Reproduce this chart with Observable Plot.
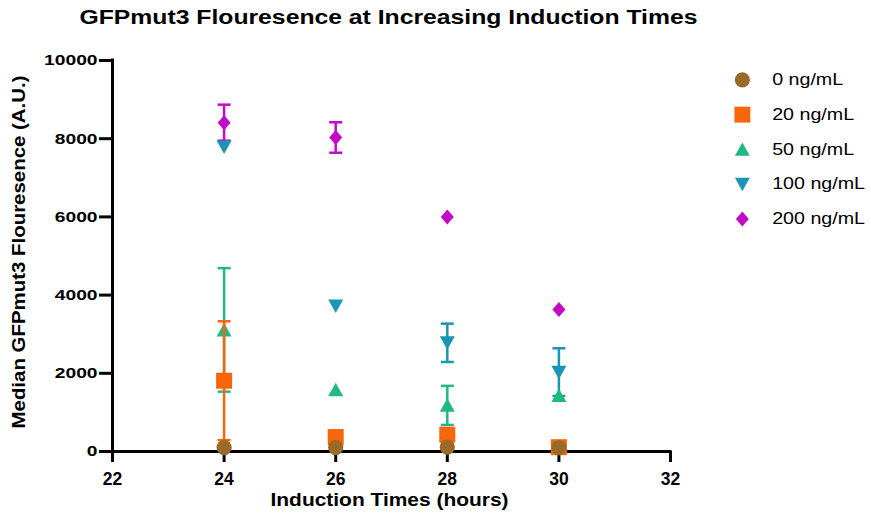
<!DOCTYPE html>
<html><head><meta charset="utf-8">
<script src="https://cdn.jsdelivr.net/npm/d3@7"></script>
<script src="https://cdn.jsdelivr.net/npm/@observablehq/plot@0.6"></script>
<style>
body{margin:0;background:#fff;}
#wrap{position:relative;width:871px;height:515px;font-family:"Liberation Sans",Arial,sans-serif;}
#chart{position:absolute;left:0;top:0;}
#legend{position:absolute;left:722px;top:61.5px;}
</style></head><body><div id="wrap"><div id="chart"></div><div id="legend"></div></div>
<script>
const title = "GFPmut3 Flouresence at Increasing Induction Times";
const xLabel = "Induction Times (hours)";
const yLabel = "Median GFPmut3 Flouresence (A.U.)";
const times = [24, 26, 28, 30];
const concentrations = ["0 ng/mL", "20 ng/mL", "50 ng/mL", "100 ng/mL", "200 ng/mL"];
const colors = ["#9A6A28", "#F8650C", "#20B883", "#1A95B3", "#C20AC6"];
const median0 = [100, 100, 110, 100];
const median20 = [1810, 370, 430, 110];
const median50 = [3110, 1580, 1180, 1430];
const median100 = [7790, 3720, 2780, 2030];
const median200 = [8410, 8030, 6000, 3630];
const err0 = [0, 0, 0, 0];
const err20 = [1520, 0, 0, 0];
const err50 = [1580, 0, 500, 0];
const err100 = [0, 0, 490, 610];
const err200 = [460, 390, 0, 0];
const xTicks = [22, 24, 26, 28, 30, 32];
const yTicks = [0, 2000, 4000, 6000, 8000, 10000];

const medians = [median0, median20, median50, median100, median200];
const errors = [err0, err20, err50, err100, err200];

const symbols = [
  {draw(c){ c.moveTo(7.6,0); c.arc(0,0,7.6,0,2*Math.PI); c.closePath(); }},
  {draw(c){ c.rect(-8,-8,16,16); }},
  {draw(c){ c.moveTo(0,-7); c.lineTo(7.5,6.5); c.lineTo(-7.5,6.5); c.closePath(); }},
  {draw(c){ c.moveTo(0,7); c.lineTo(7.5,-6.5); c.lineTo(-7.5,-6.5); c.closePath(); }},
  {draw(c){ c.moveTo(0,-7.5); c.lineTo(6.5,0); c.lineTo(0,7.5); c.lineTo(-6.5,0); c.closePath(); }}
];
const cap = {draw(c){ c.moveTo(-6.5,0); c.lineTo(6.5,0); }};

const seriesRows = concentrations.map((name, k) => times.map((t, i) => ({time: t, value: medians[k][i], err: errors[k][i]})));

const marks = [
  Plot.ruleY([0], {stroke: "black", strokeWidth: 3, strokeLinecap: "square"}),
  Plot.ruleX([22], {stroke: "black", strokeWidth: 3, strokeLinecap: "square"}),
  Plot.axisY({ticks: yTicks, tickFormat: d => String(d), tickSize: 13, tickPadding: 2, strokeWidth: 3, fontWeight: "bold", fontSize: 15, label: null}),
  Plot.axisX({ticks: xTicks, tickFormat: d => String(d), tickSize: 11, tickPadding: 10, strokeWidth: 3, fontWeight: "bold", fontSize: 17.5, label: null}),
  Plot.text([title], {text: d => d, frameAnchor: "top", lineAnchor: "middle", textAnchor: "middle", dy: -43, dx: -3, fontSize: 19.5, fontWeight: "bold"}),
  Plot.text([xLabel], {text: d => d, frameAnchor: "bottom", lineAnchor: "middle", textAnchor: "middle", dy: 49, dx: -2, fontSize: 18.5, fontWeight: "bold"}),
  Plot.text([yLabel], {text: d => d, frameAnchor: "left", lineAnchor: "middle", textAnchor: "middle", rotate: -90, dx: -93, dy: -4, fontSize: 17.5, fontWeight: "bold"})
];
for (let k = concentrations.length - 1; k >= 0; k--) {
  const rows = seriesRows[k];
  const withErr = rows.filter(d => d.err > 0);
  marks.push(Plot.ruleX(withErr, {x: "time", y1: d => d.value - d.err, y2: d => d.value + d.err, stroke: colors[k], strokeWidth: 2.5}));
  marks.push(Plot.dot(withErr, {x: "time", y: d => d.value + d.err, symbol: cap, stroke: colors[k], fill: "none", strokeWidth: 2.5}));
  marks.push(Plot.dot(withErr, {x: "time", y: d => d.value - d.err, symbol: cap, stroke: colors[k], fill: "none", strokeWidth: 2.5}));
  marks.push(Plot.dot(rows, {x: "time", y: "value", symbol: symbols[k], fill: colors[k], stroke: "none"}));
}

const chart = Plot.plot({
  width: 871, height: 515,
  marginLeft: 112, marginRight: 201, marginTop: 60, marginBottom: 64,
  x: {domain: [22, 32]},
  y: {domain: [0, 10000]},
  style: {fontFamily: "Liberation Sans, Arial, sans-serif", color: "black", background: "white"},
  marks
});
document.getElementById("chart").append(chart);

const legend = Plot.plot({
  width: 150, height: 175, marginLeft: 20, marginRight: 0, marginTop: 0, marginBottom: 0,
  x: {axis: null, domain: [0, 1]},
  y: {type: "band", domain: concentrations, axis: null, padding: 0},
  style: {fontFamily: "Liberation Sans, Arial, sans-serif", color: "black", background: "white"},
  marks: concentrations.flatMap((c, k) => [
    Plot.dot([c], {y: d => d, frameAnchor: "left", symbol: symbols[k], fill: colors[k], stroke: "none"}),
    Plot.text([c], {y: d => d, text: d => d, frameAnchor: "left", dx: 30, textAnchor: "start", fontSize: 16.5})
  ])
});
document.getElementById("legend").append(legend);

function stretch(el, factor, target) {
  const L = el.getComputedTextLength();
  if (!L) return;
  el.setAttribute("textLength", target ? target : L * factor);
  el.setAttribute("lengthAdjust", "spacingAndGlyphs");
}
chart.querySelectorAll("text").forEach(el => {
  const t = el.textContent;
  if (t === title) stretch(el, 1, 618);
  else if (t === xLabel) stretch(el, 1, 238);
  else if (t === yLabel) stretch(el, 1, 353);
  else if (el.closest('[aria-label="y-axis tick label"]')) stretch(el, 1.28);
});
legend.querySelectorAll("text").forEach(el => stretch(el, 1.2));
</script></body></html>
